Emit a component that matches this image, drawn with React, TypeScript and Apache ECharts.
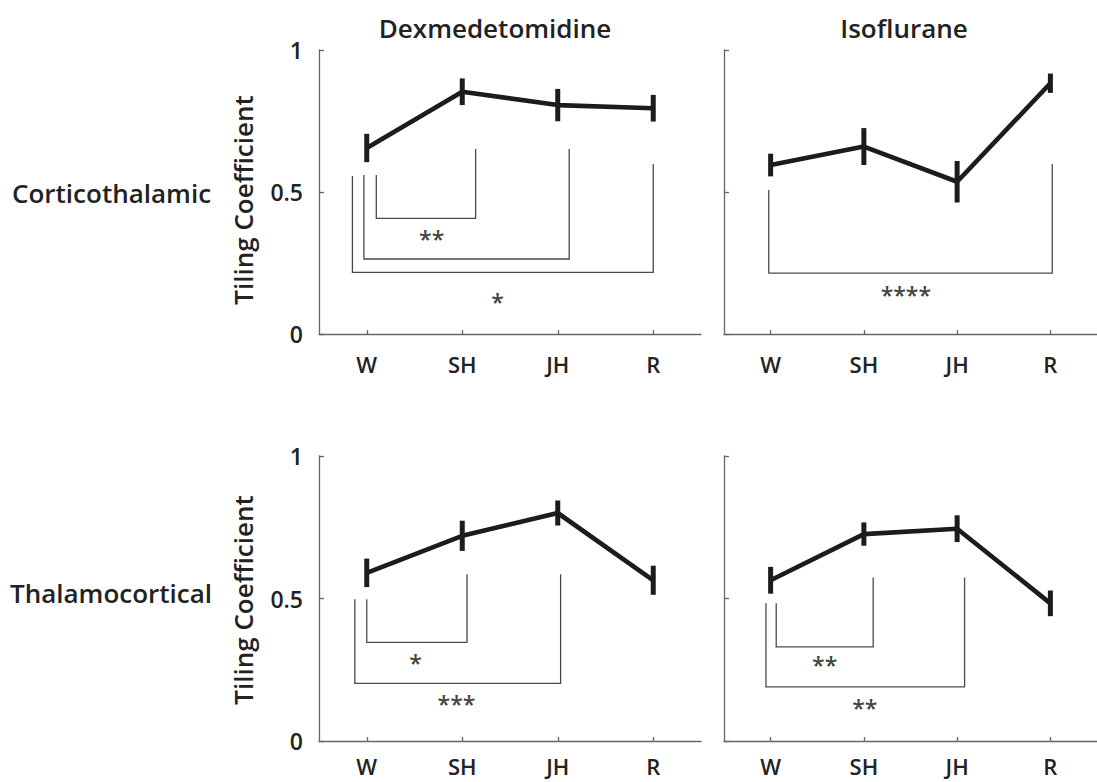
import React, { useEffect, useRef } from "react";
import * as echarts from "echarts";

const phases = ["W", "SH", "JH", "R"];
const columnTitles = ["Dexmedetomidine", "Isoflurane"];
const rowTitles = ["Corticothalamic", "Thalamocortical"];
const yAxisTitle = "Tiling Coefficient";

// Means and error half-widths
const dexCorticoMean = [0.655, 0.853, 0.806, 0.795];
const dexCorticoErr = [0.05, 0.047, 0.057, 0.047];
const isoCorticoMean = [0.595, 0.66, 0.536, 0.883];
const isoCorticoErr = [0.04, 0.065, 0.073, 0.034];
const dexThalamoMean = [0.59, 0.72, 0.8, 0.564];
const dexThalamoErr = [0.05, 0.053, 0.044, 0.051];
const isoThalamoMean = [0.564, 0.726, 0.745, 0.483];
const isoThalamoErr = [0.047, 0.041, 0.047, 0.045];

// Significance brackets: [xLeft, yLeftTop, yBottom, xRight, yRightTop]
const dexCorticoBrackets = [
  [0.1, 0.56, 0.407, 1.14, 0.651],
  [-0.03, 0.56, 0.264, 2.12, 0.651],
  [-0.15, 0.556, 0.217, 3.0, 0.599],
];
const isoCorticoBrackets = [[-0.02, 0.507, 0.214, 3.02, 0.599]];
const dexThalamoBrackets = [
  [0.0, 0.497, 0.346, 1.05, 0.585],
  [-0.125, 0.497, 0.202, 2.03, 0.585],
];
const isoThalamoBrackets = [
  [0.06, 0.483, 0.33, 1.1, 0.574],
  [-0.05, 0.483, 0.19, 2.08, 0.574],
];

// Star labels: text, x, y
const dexCorticoStars: [string, number, number][] = [
  ["**", 0.68, 0.352],
  ["*", 1.37, 0.131],
];
const isoCorticoStars: [string, number, number][] = [["****", 1.45, 0.155]];
const dexThalamoStars: [string, number, number][] = [
  ["*", 0.51, 0.29],
  ["***", 0.94, 0.146],
];
const isoThalamoStars: [string, number, number][] = [
  ["**", 0.58, 0.284],
  ["**", 1.01, 0.132],
];

const FONT = "'Open Sans', 'Noto Sans', sans-serif";
const TXT = "#222";

const panels = [
  { mean: dexCorticoMean, err: dexCorticoErr, br: dexCorticoBrackets, st: dexCorticoStars, left: 319, top: 50, width: 382, height: 284, labels: true, xMargin: 19 },
  { mean: isoCorticoMean, err: isoCorticoErr, br: isoCorticoBrackets, st: isoCorticoStars, left: 724, top: 50, width: 384, height: 284, labels: false, xMargin: 19 },
  { mean: dexThalamoMean, err: dexThalamoErr, br: dexThalamoBrackets, st: dexThalamoStars, left: 319, top: 456, width: 382, height: 285, labels: true, xMargin: 14 },
  { mean: isoThalamoMean, err: isoThalamoErr, br: isoThalamoBrackets, st: isoThalamoStars, left: 724, top: 456, width: 384, height: 285, labels: false, xMargin: 14 },
];

export default function App() {
  const ref = useRef<HTMLDivElement>(null);
  useEffect(() => {
    if (!ref.current) return;
    const chart = echarts.init(ref.current, undefined, { renderer: "svg" });
    const grid: any[] = [];
    const xAxis: any[] = [];
    const yAxis: any[] = [];
    const series: any[] = [];
    panels.forEach((p, g) => {
      grid.push({ left: p.left, top: p.top, width: p.width, height: p.height, containLabel: false });
      xAxis.push({
        type: "category",
        gridIndex: g,
        data: phases,
        boundaryGap: true,
        axisLine: { show: true, onZero: false, lineStyle: { color: "#666", width: 1.3 } },
        axisTick: { show: true, inside: true, alignWithLabel: true, length: 4, lineStyle: { color: "#666", width: 1.3 } },
        axisLabel: { show: true, margin: p.xMargin, fontSize: 22, lineHeight: 22, fontWeight: 600, fontFamily: FONT, color: TXT },
        splitLine: { show: false },
      });
      xAxis.push({
        type: "value",
        gridIndex: g,
        min: -0.5,
        max: 3.5,
        show: false,
      });
      yAxis.push({
        type: "value",
        gridIndex: g,
        min: 0,
        max: 1,
        interval: 0.5,
        axisLine: { show: true, onZero: false, lineStyle: { color: "#666", width: 1.3 } },
        axisTick: { show: true, inside: true, length: 5, lineStyle: { color: "#666", width: 1.3 } },
        axisLabel: { show: p.labels, margin: 16, fontSize: 23, fontWeight: 600, fontFamily: FONT, color: TXT },
        splitLine: { show: false },
      });
      const xi = g * 2 + 1;
      series.push({
        type: "line",
        xAxisIndex: xi,
        yAxisIndex: g,
        data: p.mean.map((m, i) => [i, m]),
        symbol: "none",
        lineStyle: { color: "#1c1c1c", width: 4.6 },
        z: 5,
      });
      series.push({
        type: "custom",
        xAxisIndex: xi,
        yAxisIndex: g,
        clip: false,
        z: 6,
        data: p.mean.map((m, i) => [i, m - p.err[i], m + p.err[i]]),
        renderItem: (params: any, api: any) => {
          const a = api.coord([api.value(0), api.value(1)]);
          const b = api.coord([api.value(0), api.value(2)]);
          return {
            type: "line",
            shape: { x1: a[0], y1: a[1], x2: b[0], y2: b[1] },
            style: { stroke: "#1c1c1c", lineWidth: 5 },
          };
        },
      });
      series.push({
        type: "custom",
        xAxisIndex: xi,
        yAxisIndex: g,
        clip: false,
        z: 4,
        data: p.br,
        renderItem: (params: any, api: any) => {
          const a = api.coord([api.value(0), api.value(1)]);
          const b = api.coord([api.value(0), api.value(2)]);
          const c = api.coord([api.value(3), api.value(2)]);
          const d = api.coord([api.value(3), api.value(4)]);
          return {
            type: "polyline",
            shape: { points: [a, b, c, d] },
            style: { stroke: "#4a4a4a", lineWidth: 1.3, fill: "none" },
          };
        },
      });
      const stars = p.st;
      series.push({
        type: "custom",
        xAxisIndex: xi,
        yAxisIndex: g,
        clip: false,
        z: 4,
        data: stars.map((s) => [s[1], s[2]]),
        renderItem: (params: any, api: any) => {
          const c = api.coord([api.value(0), api.value(1)]);
          return {
            type: "text",
            x: c[0],
            y: c[1] + 5,
            style: {
              text: stars[params.dataIndex][0],
              fill: "#444",
              font: `600 23px ${FONT}`,
              textAlign: "center",
              textVerticalAlign: "middle",
            },
          };
        },
      });
    });

    const titleStyle = { fill: TXT, font: `600 26px ${FONT}` };
    const graphic: any[] = [
      { type: "text", x: 495, y: 28, style: { ...titleStyle, text: columnTitles[0], textAlign: "center", textVerticalAlign: "middle" } },
      { type: "text", x: 904, y: 28, style: { ...titleStyle, text: columnTitles[1], textAlign: "center", textVerticalAlign: "middle" } },
      { type: "text", x: 12, y: 193, style: { ...titleStyle, text: rowTitles[0], textAlign: "left", textVerticalAlign: "middle" } },
      { type: "text", x: 10, y: 593, style: { ...titleStyle, text: rowTitles[1], textAlign: "left", textVerticalAlign: "middle" } },
      { type: "text", x: 243, y: 200, rotation: Math.PI / 2, style: { ...titleStyle, text: yAxisTitle, textAlign: "center", textVerticalAlign: "middle" } },
      { type: "text", x: 243, y: 600, rotation: Math.PI / 2, style: { ...titleStyle, text: yAxisTitle, textAlign: "center", textVerticalAlign: "middle" } },
    ];

    chart.setOption({
      animation: false,
      backgroundColor: "#ffffff",
      grid,
      xAxis,
      yAxis,
      series,
      graphic,
    });
    return () => chart.dispose();
  }, []);
  return <div ref={ref} style={{ position: "fixed", left: 0, top: 0, width: 1097, height: 782 }} />;
}
